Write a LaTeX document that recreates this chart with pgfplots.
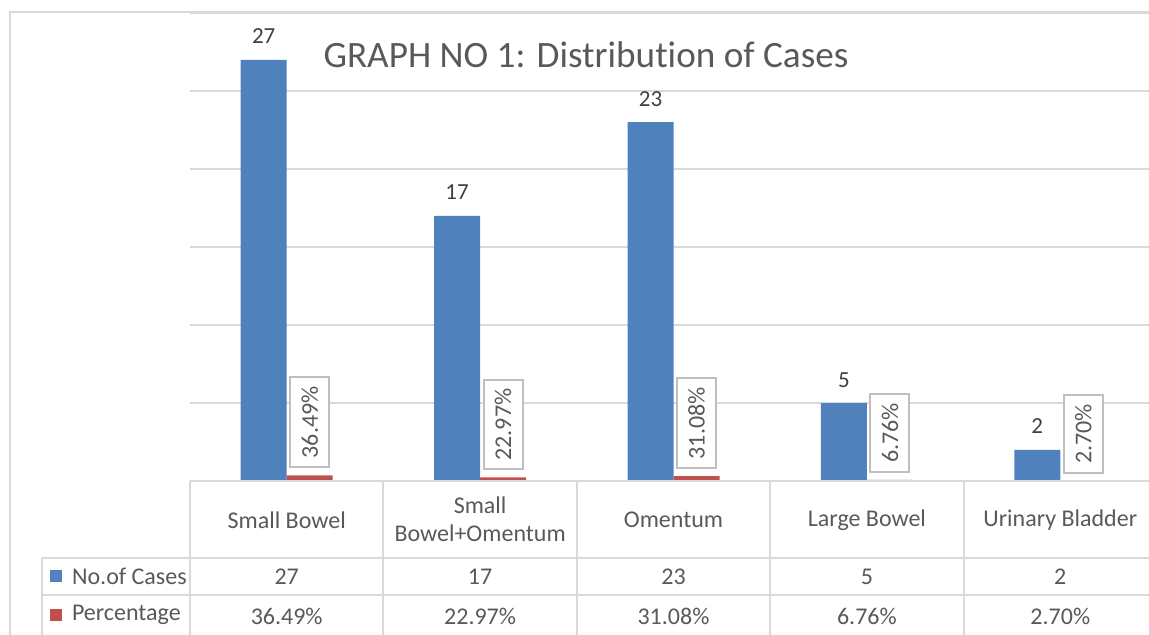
\documentclass[border=0pt]{standalone}
\usepackage{pgfplots}
\pgfplotsset{compat=1.18}
\usepackage{fontspec}
\setmainfont{Carlito}[Ligatures=NoCommon]
\definecolor{cblue}{HTML}{4F81BD}
\definecolor{cred}{HTML}{C0504D}
\definecolor{cgrid}{HTML}{D9D9D9}
\definecolor{cbox}{HTML}{BFBFBF}
\definecolor{ctext}{HTML}{595959}
\definecolor{clab}{HTML}{404040}
\begin{document}
\begin{tikzpicture}
\path[use as bounding box] (0,0) rectangle (574.5pt,-317pt);
\begin{axis}[
  at={(95pt,-240.5pt)}, anchor=south west,
  scale only axis, width=483.5pt, height=234pt,
  xmin=-0.5, xmax=4.5, ymin=0, ymax=30,
  ybar=0pt, bar width=23pt,
  axis line style={draw=none},
  xtick=\empty, ytick={5,10,...,30}, yticklabels={}, major tick length=0pt,
  ymajorgrids, grid style={cgrid, line width=1pt},
  clip=false,
]
\addplot[fill=cblue, draw=none, point meta=explicit symbolic, nodes near coords,
  every node near coord/.append style={font=\fontsize{11.5}{13}\selectfont, text=clab, anchor=base, yshift=8pt}]
  coordinates {(0,27)[27] (1,17)[17] (2,23)[23] (3,5)[5] (4,2)[2]};
\addplot[fill=cred, draw=none, point meta=explicit symbolic, nodes near coords,
  every node near coord/.append style={font=\fontsize{12}{14}\selectfont, text=ctext, yshift=3.5pt, rotate=90, anchor=west,
    draw=cbox, fill=white, line width=1pt, inner xsep=4.5pt, inner ysep=0pt, minimum height=19.5pt}]
  coordinates {(0,0.3649)[36.49\%] (1,0.2297)[22.97\%] (2,0.3108)[31.08\%] (3,0.0676)[6.76\%] (4,0.0270)[2.70\%]};
\end{axis}
\begin{scope}[x=0.5pt,y=-0.5pt]
  \draw[cgrid, line width=1pt] (10,640) -- (10,12) -- (1160,12);
  \draw[cgrid, line width=1pt] (190,481) -- (1160,481);
  \draw[cgrid, line width=1pt] (42,558) -- (1160,558);
  \draw[cgrid, line width=1pt] (42,595) -- (1160,595);
  \draw[cgrid, line width=1pt] (42,558) -- (42,640);
  \foreach \x in {190,383.4,576.8,770.2,963.6} \draw[cgrid, line width=1pt] (\x,481) -- (\x,640);
  \node[text=ctext, font=\fontsize{18.6}{22}\selectfont] at (586,55) {GRAPH NO 1: Distribution of Cases};
  \begin{scope}[every node/.style={text=ctext, font=\fontsize{12}{14}\selectfont}]
    \node at (286.7,520) {Small Bowel};
    \node[align=center] at (480.1,519) {Small\\Bowel+Omentum};
    \node at (673.5,520) {Omentum};
    \node at (866.9,520) {Large Bowel};
    \node at (1060.3,520) {Urinary Bladder};
    \node at (286.7,577) {27};
    \node at (480.1,577) {17};
    \node at (673.5,577) {23};
    \node at (866.9,577) {5};
    \node at (1060.3,577) {2};
    \node at (286.7,616) {36.49\%};
    \node at (480.1,616) {22.97\%};
    \node at (673.5,616) {31.08\%};
    \node at (866.9,616) {6.76\%};
    \node at (1060.3,616) {2.70\%};
    \node[anchor=west] at (65,576) {No.of Cases};
    \node[anchor=west] at (65,615) {Percentage};
  \end{scope}
  \fill[cblue] (50,570) rectangle (62,582);
  \fill[cred] (50,609) rectangle (62,621);
\end{scope}
\end{tikzpicture}
\end{document}
